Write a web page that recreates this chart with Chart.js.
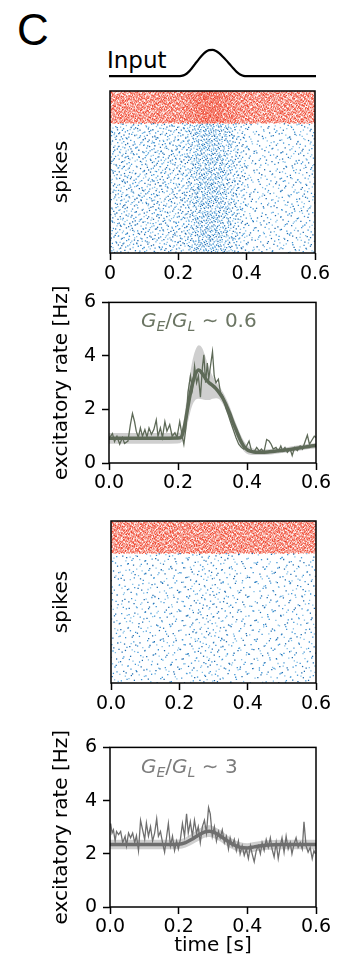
<!DOCTYPE html>
<html><head><meta charset="utf-8">
<script src="https://cdn.jsdelivr.net/npm/chart.js@4/dist/chart.umd.min.js"></script>
<style>
html,body{margin:0;padding:0;background:#fff;}
body{width:337px;height:961px;position:relative;overflow:hidden;font-family:'DejaVu Sans';}
.box{position:absolute;left:0;width:337px;}
.txt{position:absolute;white-space:nowrap;}
.ge{font-family:'DejaVu Sans';font-size:20px;line-height:20px;}
.ge sub{font-size:14px;vertical-align:-4px;line-height:0;}
</style></head><body>
<div class="txt" style="left:17px;top:8px;font-family:'Liberation Sans';font-size:44px;line-height:44px;">C</div>
<div class="txt" style="left:107px;top:49px;font-size:23px;line-height:23px;">Input</div>
<div class="box" style="top:40px;height:45px"><canvas id="cInput"></canvas></div>
<div class="box" style="top:85px;height:210px"><canvas id="cRaster1"></canvas></div>
<div class="box" style="top:285px;height:210px"><canvas id="cRate1"></canvas></div>
<div class="box" style="top:515px;height:215px"><canvas id="cRaster2"></canvas></div>
<div class="box" style="top:730px;height:231px"><canvas id="cRate2"></canvas></div>
<div class="txt ge" style="left:141px;top:310px;color:#6b7563;"><i>G</i><sub><i>E</i></sub>/<i>G</i><sub><i>L</i></sub> ∼ 0.6</div>
<div class="txt ge" style="left:141px;top:756px;color:#7d7d7d;"><i>G</i><sub><i>E</i></sub>/<i>G</i><sub><i>L</i></sub> ∼ 3</div>
<script>
// ---------------- data ----------------
const timeTicks = [0, 0.2, 0.4, 0.6];
const raster1TickLabels = ['0', '0.2', '0.4', '0.6'];
const timeTickLabels = ['0.0', '0.2', '0.4', '0.6'];
const rateTicks = [0, 2, 4, 6];

const inputTimes  = [0, 0.2, 0.21, 0.22, 0.23, 0.24, 0.25, 0.26, 0.27, 0.28, 0.29, 0.30, 0.31, 0.32, 0.33, 0.34, 0.35, 0.36, 0.37, 0.38, 0.39, 0.40, 0.6];
const inputValues = [0, 0, 0.01, 0.05, 0.15, 0.3, 0.47, 0.64, 0.8, 0.92, 0.99, 1.0, 0.96, 0.87, 0.74, 0.6, 0.45, 0.3, 0.16, 0.06, 0.01, 0, 0];

// raster dot counts per 25 ms bin
const rasterBinWidth = 0.025;
const raster1Exc = [105, 110, 100, 95, 105, 110, 105, 110, 118, 150, 195, 215, 200, 170, 135, 100, 62, 56, 58, 60, 62, 66, 68, 70];
const raster1Inh = [140, 145, 140, 145, 142, 148, 145, 150, 155, 170, 195, 205, 200, 180, 160, 145, 140, 135, 140, 135, 140, 135, 140, 135];
const raster2Exc = [50, 48, 51, 49, 50, 48, 49, 51, 52, 56, 59, 60, 58, 54, 49, 46, 44, 46, 48, 49, 50, 49, 48, 50];
const raster2Inh = [150, 146, 151, 148, 147, 150, 146, 149, 150, 147, 151, 148, 146, 150, 147, 148, 146, 150, 147, 148, 150, 146, 149, 147];
const excRows = [0, 800];
const inhRows = [800, 1000];

const rate1Times = [0.002,0.010,0.016,0.023,0.031,0.039,0.045,0.055,0.062,0.068,0.074,0.079,0.085,0.091,0.097,0.104,0.110,0.116,0.123,0.130,0.137,0.142,0.149,0.155,0.162,0.168,0.176,0.183,0.191,0.197,0.205,0.213,0.217,0.223,0.229,0.236,0.242,0.248,0.254,0.259,0.265,0.271,0.275,0.280,0.285,0.289,0.294,0.300,0.305,0.310,0.317,0.323,0.331,0.339,0.346,0.352,0.360,0.368,0.376,0.384,0.391,0.399,0.406,0.413,0.420,0.428,0.436,0.442,0.449,0.457,0.464,0.470,0.476,0.484,0.491,0.498,0.503,0.510,0.517,0.525,0.531,0.538,0.546,0.554,0.561,0.569,0.575,0.581,0.588,0.595,0.600];
const rate1Noisy = [0.95,1.1,0.8,1.0,0.7,0.95,0.73,0.82,1.43,1.85,1.55,1.19,0.95,1.31,1.0,1.25,0.97,1.31,1.07,1.25,1.61,1.0,1.31,0.95,1.55,1.19,1.43,1.0,1.13,0.95,1.55,0.95,0.7,1.31,2.64,3.25,2.76,3.61,3.0,3.25,2.46,3.61,4.04,3.0,3.73,3.13,3.61,4.16,3.25,3.0,3.13,2.64,2.46,2.04,1.79,1.55,1.25,0.95,0.7,0.58,0.52,0.64,0.82,0.46,0.4,0.58,0.44,0.52,0.4,0.88,0.82,0.7,0.52,0.58,0.44,0.64,0.46,0.58,0.4,0.52,0.28,0.58,0.46,0.64,0.52,0.82,1.04,0.7,0.85,1.0,0.95];
const rate1FitTimes = [0,0.05,0.1,0.15,0.2,0.21,0.22,0.23,0.24,0.25,0.26,0.27,0.28,0.29,0.30,0.31,0.32,0.33,0.34,0.35,0.36,0.37,0.38,0.39,0.40,0.41,0.42,0.43,0.44,0.46,0.48,0.50,0.52,0.54,0.56,0.58,0.60];
const rate1Fit   = [0.92,0.92,0.92,0.92,0.93,0.98,1.45,2.2,2.85,3.3,3.47,3.35,3.15,3.0,2.9,2.78,2.62,2.42,2.15,1.85,1.5,1.19,0.88,0.64,0.5,0.44,0.41,0.4,0.4,0.41,0.44,0.47,0.5,0.54,0.58,0.62,0.65];
const rate1Upper = [1.12,1.12,1.12,1.12,1.13,1.2,1.9,2.9,3.7,4.2,4.4,4.3,3.95,3.55,3.25,3.05,2.85,2.65,2.4,2.1,1.75,1.42,1.1,0.84,0.67,0.58,0.53,0.5,0.5,0.51,0.54,0.57,0.6,0.64,0.68,0.72,0.75];
const rate1Lower = [0.72,0.72,0.72,0.72,0.73,0.78,1.05,1.6,2.1,2.35,2.4,2.38,2.35,2.35,2.4,2.42,2.38,2.2,1.92,1.6,1.27,0.97,0.68,0.46,0.35,0.31,0.3,0.3,0.3,0.31,0.34,0.37,0.4,0.44,0.48,0.52,0.55];

const rate2Times = [0.002,0.006,0.010,0.015,0.019,0.025,0.031,0.037,0.044,0.048,0.054,0.060,0.066,0.072,0.077,0.083,0.089,0.095,0.101,0.106,0.112,0.118,0.124,0.130,0.136,0.141,0.147,0.153,0.159,0.165,0.170,0.176,0.182,0.188,0.194,0.199,0.205,0.211,0.217,0.223,0.228,0.234,0.240,0.246,0.252,0.257,0.263,0.269,0.275,0.281,0.287,0.292,0.298,0.304,0.310,0.316,0.321,0.327,0.333,0.339,0.345,0.350,0.356,0.362,0.368,0.374,0.379,0.385,0.391,0.397,0.403,0.409,0.414,0.420,0.426,0.432,0.438,0.443,0.449,0.455,0.461,0.467,0.472,0.478,0.484,0.490,0.496,0.501,0.507,0.513,0.519,0.525,0.530,0.536,0.542,0.548,0.554,0.560,0.565,0.571,0.577,0.583,0.589,0.594,0.598];
const rate2Noisy = [3.14,2.78,2.9,2.48,2.84,2.72,2.84,2.42,2.66,2.3,2.78,2.6,2.78,2.42,2.68,2.12,3.26,2.9,2.54,3.16,2.66,3.02,2.48,2.78,3.32,2.66,2.84,2.42,2.06,2.66,3.14,2.3,2.66,2.12,2.48,2.18,2.54,3.14,2.66,3.5,2.78,3.2,2.66,3.26,2.78,3.02,2.42,3.02,3.26,2.78,3.74,3.5,2.66,3.02,2.48,2.84,2.6,2.9,2.42,2.66,2.18,2.6,2.3,2.54,2.12,2.48,2.0,2.3,1.94,2.18,1.82,2.3,2.0,1.7,2.12,2.3,2.0,2.42,2.12,2.54,2.24,2.6,2.18,1.88,2.42,1.82,2.3,2.6,2.06,2.66,2.18,2.42,2.0,2.36,2.6,2.24,2.42,2.18,3.2,2.3,2.06,2.24,1.82,2.12,2.0];
const rate2FitTimes = [0,0.05,0.1,0.15,0.2,0.22,0.24,0.26,0.28,0.29,0.30,0.32,0.34,0.36,0.38,0.40,0.42,0.44,0.46,0.5,0.55,0.6];
const rate2Fit   = [2.35,2.35,2.35,2.35,2.36,2.42,2.56,2.72,2.84,2.85,2.82,2.68,2.5,2.34,2.24,2.22,2.26,2.3,2.33,2.35,2.35,2.35];
const rate2Upper = [2.53,2.53,2.53,2.53,2.54,2.61,2.77,2.94,3.06,3.07,3.04,2.9,2.71,2.54,2.43,2.4,2.44,2.48,2.51,2.53,2.53,2.53];
const rate2Lower = [2.17,2.17,2.17,2.17,2.18,2.24,2.36,2.5,2.62,2.63,2.6,2.47,2.3,2.15,2.06,2.04,2.08,2.12,2.15,2.17,2.17,2.17];

// ---------------- helpers ----------------
Chart.defaults.font.family = 'DejaVu Sans';
Chart.defaults.font.size = 19;
Chart.defaults.color = '#000';
Chart.defaults.animation = false;

const zip = (xs, ys) => xs.map((x, i) => ({x: x, y: ys[i]}));

// spread each bin's dot count evenly inside its bin & row band (Halton low-discrepancy layout)
function radicalInverse(n, b) { let f = 1, r = 0; while (n > 0) { f /= b; r += f * (n % b); n = Math.floor(n / b); } return r; }
function rasterPoints(counts, rows, start) {
  const groups = [[], [], []];
  let idx = start;
  counts.forEach((n, i) => {
    const t0 = i * rasterBinWidth;
    for (let k = 0; k < n; k++) {
      idx++;
      const u = radicalInverse(idx, 2);
      const v = radicalInverse(idx, 3);
      const shade = Math.floor(radicalInverse(idx, 7) * 3);
      groups[shade].push({x: t0 + u * rasterBinWidth, y: rows[0] + v * (rows[1] - rows[0])});
    }
    idx += 37;
  });
  return groups;
}

const framePlugin = {
  id: 'frame',
  afterDatasetsDraw(chart, args, opts) {
    if (!opts.show) return;
    const {ctx, chartArea: a} = chart;
    ctx.save();
    ctx.strokeStyle = '#000';
    ctx.lineWidth = 1.5;
    ctx.strokeRect(a.left, a.top, a.right - a.left, a.bottom - a.top);
    ctx.restore();
  }
};

const axisTitleFont = {size: 20};

function xAxis(labels, height, pad, title) {
  return {
    type: 'linear', min: 0, max: 0.6,
    afterBuildTicks: s => { s.ticks = timeTicks.map(v => ({value: v})); },
    afterFit: s => { s.height = height; },
    ticks: {padding: pad, maxRotation: 0, autoSkip: false,
            callback: (v) => labels[timeTicks.indexOf(v)] },
    grid: {display: true, drawOnChartArea: false, drawTicks: true, tickLength: 7, tickColor: '#000', tickWidth: 1.5},
    border: {display: false},
    title: title ? {display: true, text: title, font: axisTitleFont, padding: {top: 0, bottom: 3}} : {display: false}
  };
}

function baseOptions(padding, scales) {
  return {
    responsive: true, maintainAspectRatio: false, animation: false,
    layout: {padding: padding},
    plugins: {legend: {display: false}, tooltip: {enabled: false}, frame: {show: true}},
    scales: scales,
    elements: {point: {radius: 0}}
  };
}

// ---------------- input ----------------
new Chart(document.getElementById('cInput'), {
  type: 'line',
  data: {datasets: [{data: zip(inputTimes, inputValues), borderColor: '#000', borderWidth: 2.2, pointRadius: 0, cubicInterpolationMode: 'monotone'}]},
  options: Object.assign(baseOptions({left: 109, right: 21, top: 6, bottom: 5}, {
    x: {type: 'linear', min: 0, max: 0.6, display: false},
    y: {min: -0.15, max: 1.15, display: false}
  }), {plugins: {legend: {display: false}, tooltip: {enabled: false}, frame: {show: false}}})
});

// ---------------- rasters ----------------
function rasterChart(id, exc, inh, labels, pad, xh, yw, padRight) {
  const e = rasterPoints(exc, excRows, 11);
  const r = rasterPoints(inh, inhRows, 5003);
  const blue = ['#1d6cb0', '#3a92d4', '#7fbde6'];
  const red = ['#ee3f28', '#f2604c', '#f58e7e'];
  const ds = [];
  for (let j = 0; j < 3; j++) {
    ds.push({data: e[j], pointStyle: 'rect', pointRadius: 0.9, backgroundColor: blue[j], borderWidth: 0});
    ds.push({data: r[j], pointStyle: 'rect', pointRadius: 0.85, backgroundColor: red[j], borderWidth: 0});
  }
  new Chart(document.getElementById(id), {
    type: 'scatter',
    data: {datasets: ds},
    plugins: [framePlugin],
    options: baseOptions({left: 50, right: padRight, top: 6, bottom: 0}, {
      x: xAxis(labels, xh, pad, null),
      y: {min: 0, max: 1000, afterFit: s => { s.width = yw; },
          ticks: {display: false}, grid: {display: false}, border: {display: false},
          title: {display: true, text: 'spikes', font: axisTitleFont, padding: {top: 0, bottom: 0}}}
    })
  });
}
rasterChart('cRaster1', raster1Exc, raster1Inh, raster1TickLabels, 3, 42, 60, 22);
rasterChart('cRaster2', raster2Exc, raster2Inh, timeTickLabels, 3, 47, 61, 21);

// ---------------- rates ----------------
function rateChart(id, times, noisy, fitT, fit, up, lo, color, band, xh, pad, title, yw, padRight) {
  new Chart(document.getElementById(id), {
    type: 'line',
    data: {datasets: [
      {data: zip(fitT, fit), borderColor: color, borderWidth: 3.5, cubicInterpolationMode: 'monotone', pointRadius: 0},
      {data: zip(times, noisy), borderColor: color, borderWidth: 1.3, tension: 0, pointRadius: 0},
      {data: zip(fitT, up), borderColor: 'rgba(0,0,0,0)', borderWidth: 0, backgroundColor: band, fill: '+1', cubicInterpolationMode: 'monotone', pointRadius: 0},
      {data: zip(fitT, lo), borderColor: 'rgba(0,0,0,0)', borderWidth: 0, cubicInterpolationMode: 'monotone', pointRadius: 0}
    ]},
    plugins: [framePlugin],
    options: baseOptions({left: 50, right: padRight, top: 12, bottom: 0}, {
      x: xAxis(timeTickLabels, xh, pad, title),
      y: {min: 0, max: 6, afterFit: s => { s.width = yw; },
          afterBuildTicks: s => { s.ticks = rateTicks.map(v => ({value: v})); },
          ticks: {padding: 6},
          grid: {display: true, drawOnChartArea: false, drawTicks: true, tickLength: 7, tickColor: '#000', tickWidth: 1.5},
          border: {display: false},
          title: {display: true, text: 'excitatory rate [Hz]', font: axisTitleFont, padding: {top: 0, bottom: 0}}}
    })
  });
}
rateChart('cRate1', rate1Times, rate1Noisy, rate1FitTimes, rate1Fit, rate1Upper, rate1Lower, '#5e6a58', 'rgba(160,160,160,0.5)', 32, 2, null, 59, 21);
rateChart('cRate2', rate2Times, rate2Noisy, rate2FitTimes, rate2Fit, rate2Upper, rate2Lower, '#6e6e6e', 'rgba(160,160,160,0.5)', 54, 2, 'time [s]', 60, 21);
</script>
</body></html>
